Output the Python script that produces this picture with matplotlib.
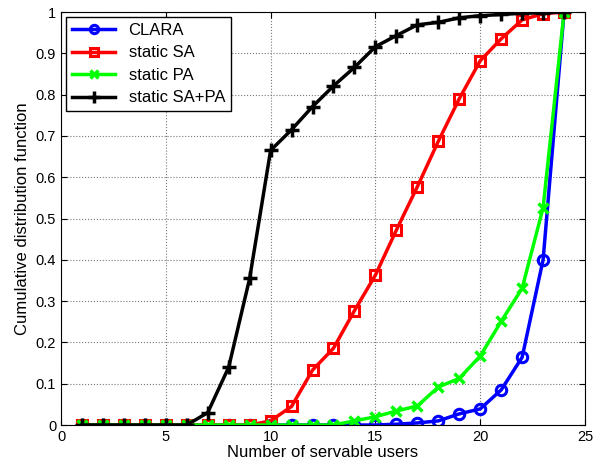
import matplotlib
matplotlib.use('Agg')
import matplotlib.pyplot as plt

plt.rcParams['font.family'] = ['Liberation Sans', 'DejaVu Sans']

users = list(range(1, 25))

clara = [0, 0, 0, 0, 0, 0, 0, 0, 0, 0, 0, 0, 0, 0, 0, 0.002, 0.005, 0.01,
         0.027, 0.039, 0.085, 0.164, 0.40, 1.0]
static_sa = [0, 0, 0, 0, 0, 0, 0, 0, 0, 0.01, 0.045, 0.133, 0.186, 0.277,
             0.363, 0.472, 0.577, 0.687, 0.79, 0.882, 0.935, 0.981, 0.996, 1.0]
static_pa = [0, 0, 0, 0, 0, 0, 0, 0, 0, 0, 0, 0, 0, 0.01, 0.02, 0.034,
             0.046, 0.092, 0.113, 0.167, 0.251, 0.331, 0.526, 1.0]
static_sapa = [0, 0, 0, 0, 0, 0, 0.03, 0.14, 0.355, 0.665, 0.715, 0.771,
               0.821, 0.866, 0.916, 0.943, 0.969, 0.975, 0.986, 0.991,
               0.994, 0.997, 0.998, 1.0]

fig = plt.figure(figsize=(6.07, 4.67), dpi=100)
ax = fig.add_axes([0.1005, 0.0899, 0.8633, 0.8844])

ax.plot(users, clara, '-o', color='blue', lw=2.5, ms=7.5, mew=2.2,
        mfc='none', label='CLARA')
ax.plot(users, static_sa, '-s', color='red', lw=2.5, ms=7.5, mew=2.2,
        mfc='none', label='static SA')
ax.plot(users, static_pa, '-x', color='#00ff00', lw=2.5, ms=7.5, mew=2.5,
        label='static PA')
ax.plot(users, static_sapa, '-+', color='black', lw=2.5, ms=10, mew=2.5,
        label='static SA+PA')

ax.set_xlim(0, 25)
ax.set_ylim(0, 1)
ax.set_xticks(range(0, 26, 5))
ax.set_yticks([i / 10 for i in range(11)])
ax.set_yticklabels(['0'] + ['%.1f' % (i / 10) for i in range(1, 10)] + ['1'])
ax.tick_params(direction='in', labelsize=10.5, length=4, top=True, right=True)
ax.grid(True, linestyle=':', color='#777777', lw=0.8)
ax.set_xlabel('Number of servable users', fontsize=12, labelpad=1)
ax.set_ylabel('Cumulative distribution function', fontsize=12, labelpad=4)

leg = ax.legend(loc='upper left', fontsize=12, fancybox=False,
                framealpha=1, edgecolor='black', borderaxespad=0.3,
                handlelength=2.6, labelspacing=0.45, borderpad=0.35,
                markerscale=0.8)
leg.get_frame().set_linewidth(1.0)

fig.savefig('out.png', dpi=100)
